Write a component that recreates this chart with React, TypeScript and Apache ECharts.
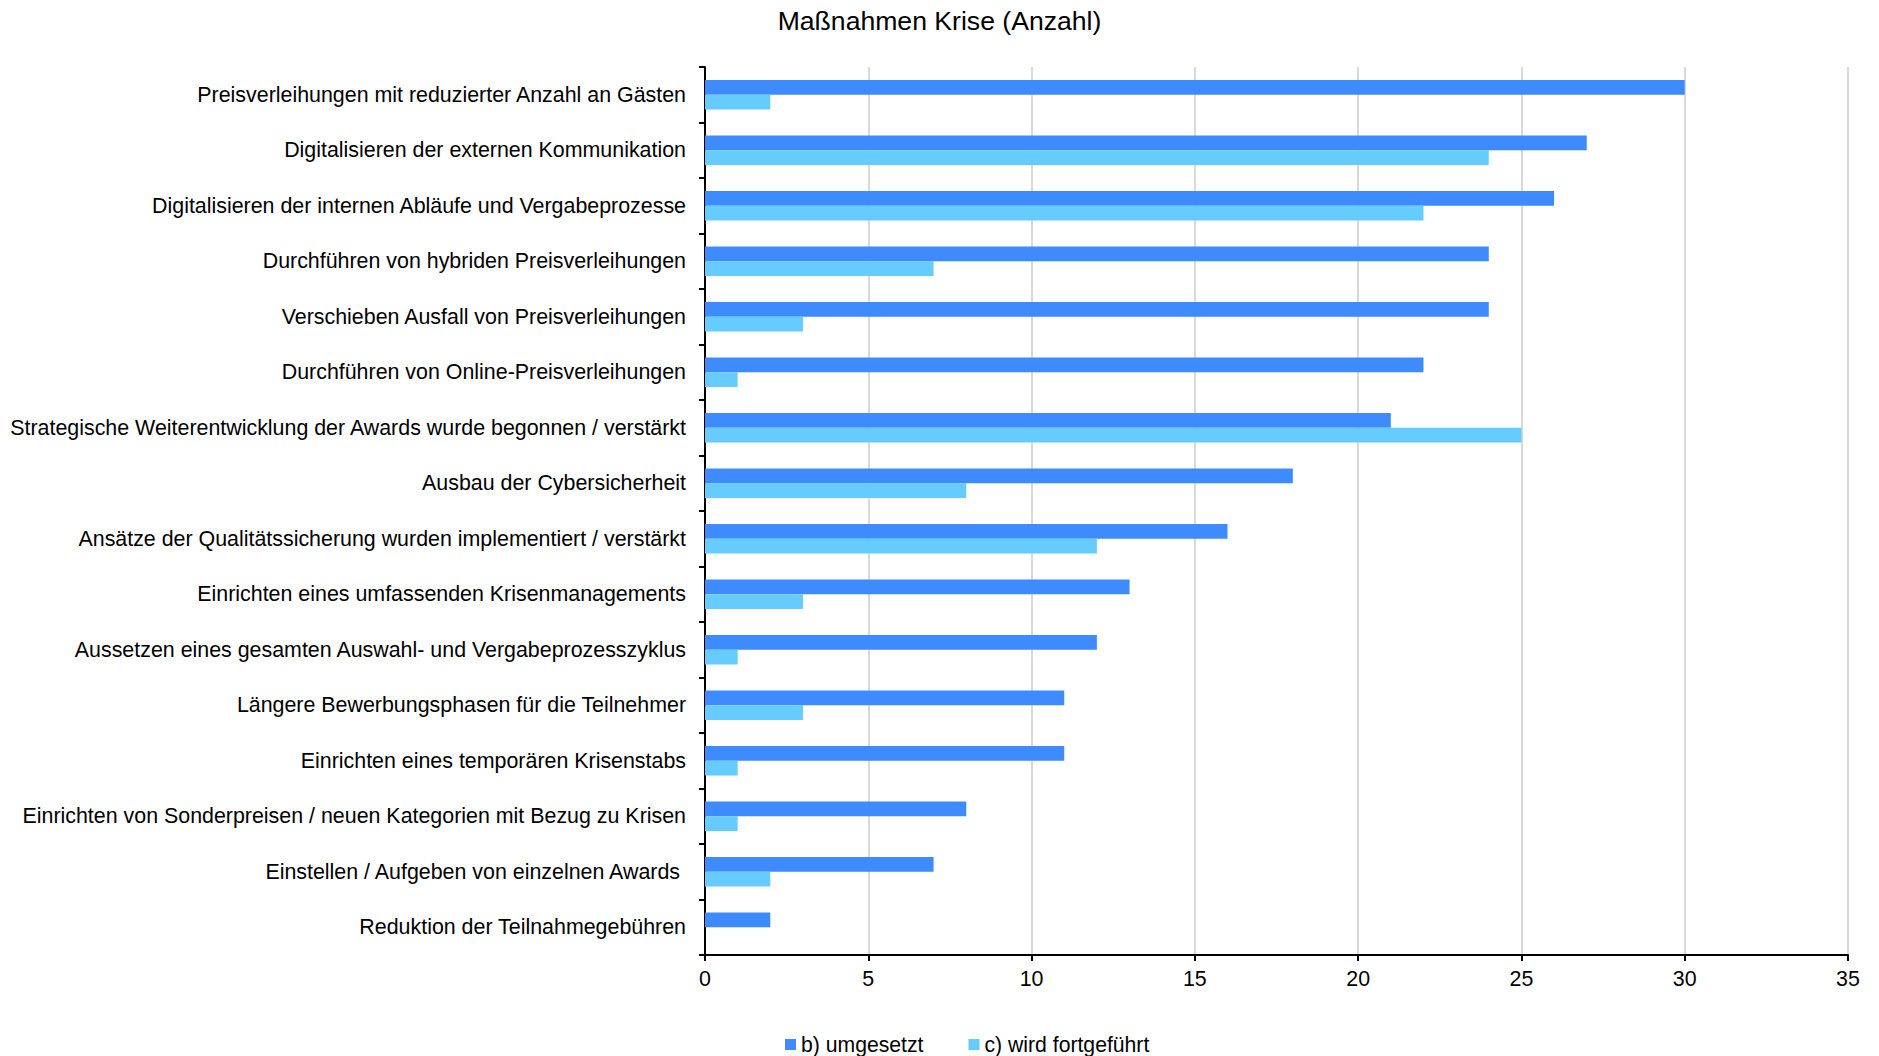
import React, { useEffect, useRef } from "react";
import * as echarts from "echarts";

const categories = [
  "Preisverleihungen mit reduzierter Anzahl an Gästen",
  "Digitalisieren der externen Kommunikation",
  "Digitalisieren der internen Abläufe und Vergabeprozesse",
  "Durchführen von hybriden Preisverleihungen",
  "Verschieben Ausfall von Preisverleihungen",
  "Durchführen von Online-Preisverleihungen",
  "Strategische Weiterentwicklung der Awards wurde begonnen / verstärkt",
  "Ausbau der Cybersicherheit",
  "Ansätze der Qualitätssicherung wurden implementiert / verstärkt",
  "Einrichten eines umfassenden Krisenmanagements",
  "Aussetzen eines gesamten Auswahl- und Vergabeprozesszyklus",
  "Längere Bewerbungsphasen für die Teilnehmer",
  "Einrichten eines temporären Krisenstabs",
  "Einrichten von Sonderpreisen / neuen Kategorien mit Bezug zu Krisen",
  "Einstellen / Aufgeben von einzelnen Awards ",
  "Reduktion der Teilnahmegebühren",
];

const umgesetzt = [30, 27, 26, 24, 24, 22, 21, 18, 16, 13, 12, 11, 11, 8, 7, 2];
const fortgefuehrt = [2, 24, 22, 7, 3, 1, 25, 8, 12, 3, 1, 3, 1, 1, 2, 0];

const seriesNames = ["b) umgesetzt", "c) wird fortgeführt"];
const title = "Maßnahmen Krise (Anzahl)";

const FONT = "'Liberation Sans', Arial, sans-serif";

export default function App() {
  const ref = useRef<HTMLDivElement>(null);
  useEffect(() => {
    document.body.style.margin = "0";
    const chart = echarts.init(ref.current!, null, { renderer: "svg" });
    chart.setOption({
      animation: false,
      backgroundColor: "#ffffff",
      textStyle: { fontFamily: FONT, color: "#000" },
      title: {
        text: title,
        left: "center",
        top: 2,
        textStyle: { fontFamily: FONT, fontSize: 26.6, fontWeight: "normal", color: "#000" },
      },
      legend: {
        left: 780,
        top: 1029,
        itemWidth: 11,
        itemHeight: 11,
        itemGap: 45,
        icon: "rect",
        textStyle: { fontFamily: FONT, fontSize: 21.2, color: "#000" },
        data: seriesNames,
      },
      grid: { left: 705, right: 31, top: 67, bottom: 101, containLabel: false },
      xAxis: {
        type: "value",
        min: 0,
        max: 35,
        interval: 5,
        axisLine: { show: true, lineStyle: { color: "#000", width: 2 } },
        axisTick: { show: true, length: 6, lineStyle: { color: "#000", width: 2 } },
        axisLabel: { fontFamily: FONT, fontSize: 21.4, color: "#000", margin: 13 },
        splitLine: { show: true, lineStyle: { color: "#d9d9d9", width: 2 } },
      },
      yAxis: {
        type: "category",
        data: categories,
        inverse: true,
        axisLine: { show: true, lineStyle: { color: "#000", width: 2 } },
        axisTick: { show: true, length: 6, alignWithLabel: false, lineStyle: { color: "#000", width: 2 } },
        axisLabel: { fontFamily: FONT, fontSize: 21.4, color: "#000", margin: 19 },
        splitLine: { show: false },
      },
      series: [
        {
          name: seriesNames[0],
          type: "bar",
          data: umgesetzt,
          itemStyle: { color: "#3d8bff" },
          barGap: "0%",
          barCategoryGap: "47%",
        },
        {
          name: seriesNames[1],
          type: "bar",
          data: fortgefuehrt,
          itemStyle: { color: "#66cbff" },
          barGap: "0%",
          barCategoryGap: "47%",
        },
      ],
    });
    return () => chart.dispose();
  }, []);
  return <div ref={ref} style={{ width: 1879, height: 1056 }} />;
}
